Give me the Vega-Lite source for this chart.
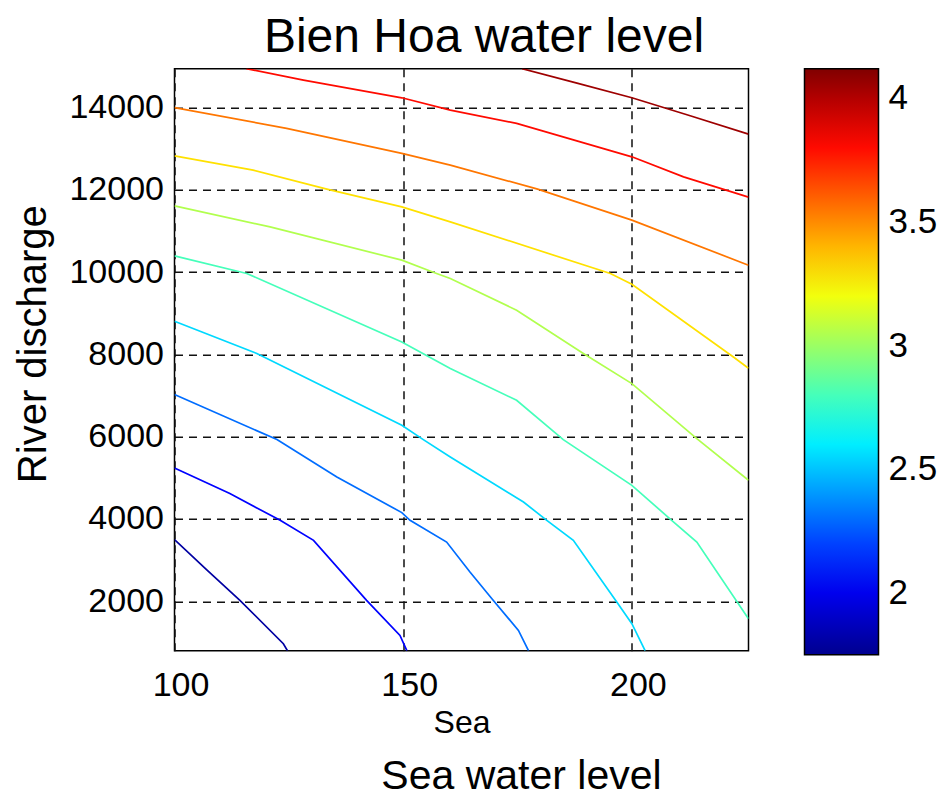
{
  "$schema": "https://vega.github.io/schema/vega-lite/v6.json",
  "width": 574,
  "height": 582,
  "autosize": "none",
  "padding": {"left": 174.5, "top": 68.7, "right": 188.5, "bottom": 146.8},
  "background": "white",
  "config": {
    "font": "Liberation Sans",
    "view": {"stroke": "black", "strokeWidth": 1.5},
    "axis": {"labelColor": "black", "titleColor": "black", "titleFontWeight": "normal", "labelFont": "Liberation Sans", "titleFont": "Liberation Sans"},
    "legend": {"labelColor": "black", "labelFont": "Liberation Sans"}
  },
  "title": {
    "text": "Bien Hoa water level",
    "fontSize": 48,
    "fontWeight": "normal",
    "font": "Liberation Sans",
    "color": "black",
    "anchor": "middle",
    "frame": "group",
    "dx": 22.5,
    "offset": 7
  },
  "data": {
    "values": [
      {"level": 1.8, "i": 0, "sea": 100, "q": 3498},
      {"level": 1.8, "i": 1, "sea": 107.0, "q": 2769},
      {"level": 1.8, "i": 2, "sea": 114.3, "q": 2023},
      {"level": 1.8, "i": 3, "sea": 123.8, "q": 970},
      {"level": 1.8, "i": 4, "sea": 124.7, "q": 800},

      {"level": 2.05, "i": 0, "sea": 100, "q": 5239},
      {"level": 2.05, "i": 1, "sea": 112.1, "q": 4617},
      {"level": 2.05, "i": 2, "sea": 123.1, "q": 3967},
      {"level": 2.05, "i": 3, "sea": 130.4, "q": 3481},
      {"level": 2.05, "i": 4, "sea": 142.0, "q": 2023},
      {"level": 2.05, "i": 5, "sea": 149.3, "q": 1172},
      {"level": 2.05, "i": 6, "sea": 150.8, "q": 800},

      {"level": 2.3, "i": 0, "sea": 100, "q": 7023},
      {"level": 2.3, "i": 1, "sea": 122.4, "q": 5929},
      {"level": 2.3, "i": 2, "sea": 135.5, "q": 5020},
      {"level": 2.3, "i": 3, "sea": 149.7, "q": 4155},
      {"level": 2.3, "i": 4, "sea": 151.5, "q": 3967},
      {"level": 2.3, "i": 5, "sea": 159.5, "q": 3440},
      {"level": 2.3, "i": 6, "sea": 164.6, "q": 2710},
      {"level": 2.3, "i": 7, "sea": 169.4, "q": 2064},
      {"level": 2.3, "i": 8, "sea": 175.2, "q": 1293},
      {"level": 2.3, "i": 9, "sea": 177.4, "q": 800},

      {"level": 2.55, "i": 0, "sea": 100, "q": 8805},
      {"level": 2.55, "i": 1, "sea": 118.0, "q": 8020},
      {"level": 2.55, "i": 2, "sea": 149.7, "q": 6277},
      {"level": 2.55, "i": 3, "sea": 154.4, "q": 5929},
      {"level": 2.55, "i": 4, "sea": 160.3, "q": 5506},
      {"level": 2.55, "i": 5, "sea": 176.3, "q": 4412},
      {"level": 2.55, "i": 6, "sea": 181.4, "q": 3967},
      {"level": 2.55, "i": 7, "sea": 187.2, "q": 3481},
      {"level": 2.55, "i": 8, "sea": 196.7, "q": 1981},
      {"level": 2.55, "i": 9, "sea": 200.0, "q": 1456},
      {"level": 2.55, "i": 10, "sea": 202.9, "q": 800},

      {"level": 2.8, "i": 0, "sea": 100, "q": 10392},
      {"level": 2.8, "i": 1, "sea": 115.8, "q": 9965},
      {"level": 2.8, "i": 2, "sea": 149.7, "q": 8302},
      {"level": 2.8, "i": 3, "sea": 160.3, "q": 7655},
      {"level": 2.8, "i": 4, "sea": 174.8, "q": 6884},
      {"level": 2.8, "i": 5, "sea": 185.0, "q": 5929},
      {"level": 2.8, "i": 6, "sea": 200.0, "q": 4818},
      {"level": 2.8, "i": 7, "sea": 208.7, "q": 3967},
      {"level": 2.8, "i": 8, "sea": 214.2, "q": 3440},
      {"level": 2.8, "i": 9, "sea": 225.5, "q": 1578},

      {"level": 3.05, "i": 0, "sea": 100, "q": 11608},
      {"level": 3.05, "i": 1, "sea": 120.9, "q": 11097},
      {"level": 3.05, "i": 2, "sea": 149.7, "q": 10288},
      {"level": 3.05, "i": 3, "sea": 157.3, "q": 9964},
      {"level": 3.05, "i": 4, "sea": 160.3, "q": 9843},
      {"level": 3.05, "i": 5, "sea": 174.8, "q": 9072},
      {"level": 3.05, "i": 6, "sea": 189.4, "q": 8020},
      {"level": 3.05, "i": 7, "sea": 200.0, "q": 7290},
      {"level": 3.05, "i": 8, "sea": 214.2, "q": 5953},
      {"level": 3.05, "i": 9, "sea": 225.5, "q": 4940},

      {"level": 3.3, "i": 0, "sea": 100, "q": 12823},
      {"level": 3.3, "i": 1, "sea": 117.2, "q": 12476},
      {"level": 3.3, "i": 2, "sea": 133.3, "q": 12014},
      {"level": 3.3, "i": 3, "sea": 149.7, "q": 11584},
      {"level": 3.3, "i": 4, "sea": 160.3, "q": 11219},
      {"level": 3.3, "i": 5, "sea": 195.3, "q": 9965},
      {"level": 3.3, "i": 6, "sea": 200.0, "q": 9704},
      {"level": 3.3, "i": 7, "sea": 222.2, "q": 7937},
      {"level": 3.3, "i": 8, "sea": 225.5, "q": 7662},

      {"level": 3.55, "i": 0, "sea": 100, "q": 13995},
      {"level": 3.55, "i": 1, "sea": 124.5, "q": 13490},
      {"level": 3.55, "i": 2, "sea": 149.7, "q": 12882},
      {"level": 3.55, "i": 3, "sea": 160.3, "q": 12597},
      {"level": 3.55, "i": 4, "sea": 179.4, "q": 12014},
      {"level": 3.55, "i": 5, "sea": 200.0, "q": 11260},
      {"level": 3.55, "i": 6, "sea": 225.5, "q": 10166},

      {"level": 3.8, "i": 0, "sea": 115.7, "q": 14940},
      {"level": 3.8, "i": 1, "sea": 128.2, "q": 14664},
      {"level": 3.8, "i": 2, "sea": 149.7, "q": 14233},
      {"level": 3.8, "i": 3, "sea": 160.3, "q": 13934},
      {"level": 3.8, "i": 4, "sea": 174.8, "q": 13611},
      {"level": 3.8, "i": 5, "sea": 200.0, "q": 12799},
      {"level": 3.8, "i": 6, "sea": 211.3, "q": 12313},
      {"level": 3.8, "i": 7, "sea": 225.5, "q": 11820},

      {"level": 4.05, "i": 0, "sea": 176.0, "q": 14940},
      {"level": 4.05, "i": 1, "sea": 188.0, "q": 14590},
      {"level": 4.05, "i": 2, "sea": 200.0, "q": 14233},
      {"level": 4.05, "i": 3, "sea": 212.75, "q": 13796},
      {"level": 4.05, "i": 4, "sea": 225.5, "q": 13350}
    ]
  },
  "encoding": {
    "y": {
      "field": "q",
      "type": "quantitative",
      "scale": {"domain": [800, 14940], "nice": false, "zero": false},
      "axis": {
        "title": "River discharge",
        "titleFontSize": 40,
        "titlePadding": 15,
        "titleY": 275,
        "labelFontSize": 34,
        "labelPadding": 11,
        "format": "d",
        "values": [2000, 4000, 6000, 8000, 10000, 12000, 14000],
        "ticks": false,
        "domain": false,
        "grid": true,
        "gridColor": "#111111",
        "gridDash": [8, 6],
        "gridWidth": 1.5,
        "gridOpacity": 1
      }
    },
    "color": {
      "field": "level",
      "type": "quantitative",
      "scale": {
        "domain": [1.75, 2.046, 2.639, 3.231, 3.824, 4.12],
        "range": ["#00008f", "#0000ff", "#00ffff", "#ffff00", "#ff0000", "#800000"],
        "interpolate": "rgb",
        "nice": false,
        "zero": false
      },
      "legend": {
        "orient": "right",
        "offset": 56,
        "padding": 0,
        "title": null,
        "direction": "vertical",
        "gradientLength": 586,
        "gradientThickness": 74,
        "gradientStrokeColor": "black",
        "gradientStrokeWidth": 1.5,
        "values": [2, 2.5, 3, 3.5, 4],
        "format": "~g",
        "labelFontSize": 35,
        "labelOffset": 10,
        "labelOverlap": false,
        "labelFlush": false
      }
    },
    "detail": {"field": "level", "type": "nominal"},
    "order": {"field": "i", "type": "quantitative"}
  },
  "layer": [
    {
      "transform": [{"filter": "datum.level < 2.9"}],
      "mark": {"type": "line", "strokeWidth": 1.7, "clip": true},
      "encoding": {
        "x": {
          "field": "sea",
          "type": "quantitative",
          "scale": {"domain": [100, 225.5], "nice": false, "zero": false},
          "axis": {
            "orient": "bottom",
            "title": "Sea",
            "titleFontSize": 32,
            "titlePadding": 5,
            "labelFontSize": 34,
            "labelPadding": 18,
            "labelOffset": 6,
            "labelFlush": false,
            "values": [100, 150, 200],
            "ticks": false,
            "domain": false,
            "grid": true,
            "gridColor": "#111111",
            "gridDash": [8, 6],
            "gridWidth": 1.5,
            "gridOpacity": 1
          }
        }
      }
    },
    {
      "transform": [{"filter": "datum.level > 2.9"}],
      "mark": {"type": "line", "strokeWidth": 1.7, "clip": true},
      "encoding": {
        "x": {
          "field": "sea",
          "type": "quantitative",
          "scale": {"domain": [100, 225.5], "nice": false, "zero": false},
          "axis": {
            "orient": "bottom",
            "title": "Sea water level",
            "titleFontSize": 41,
            "titlePadding": 106,
            "titleX": 346.5,
            "labels": false,
            "ticks": false,
            "domain": false,
            "grid": false
          }
        }
      }
    }
  ],
  "resolve": {"axis": {"x": "independent"}}
}
